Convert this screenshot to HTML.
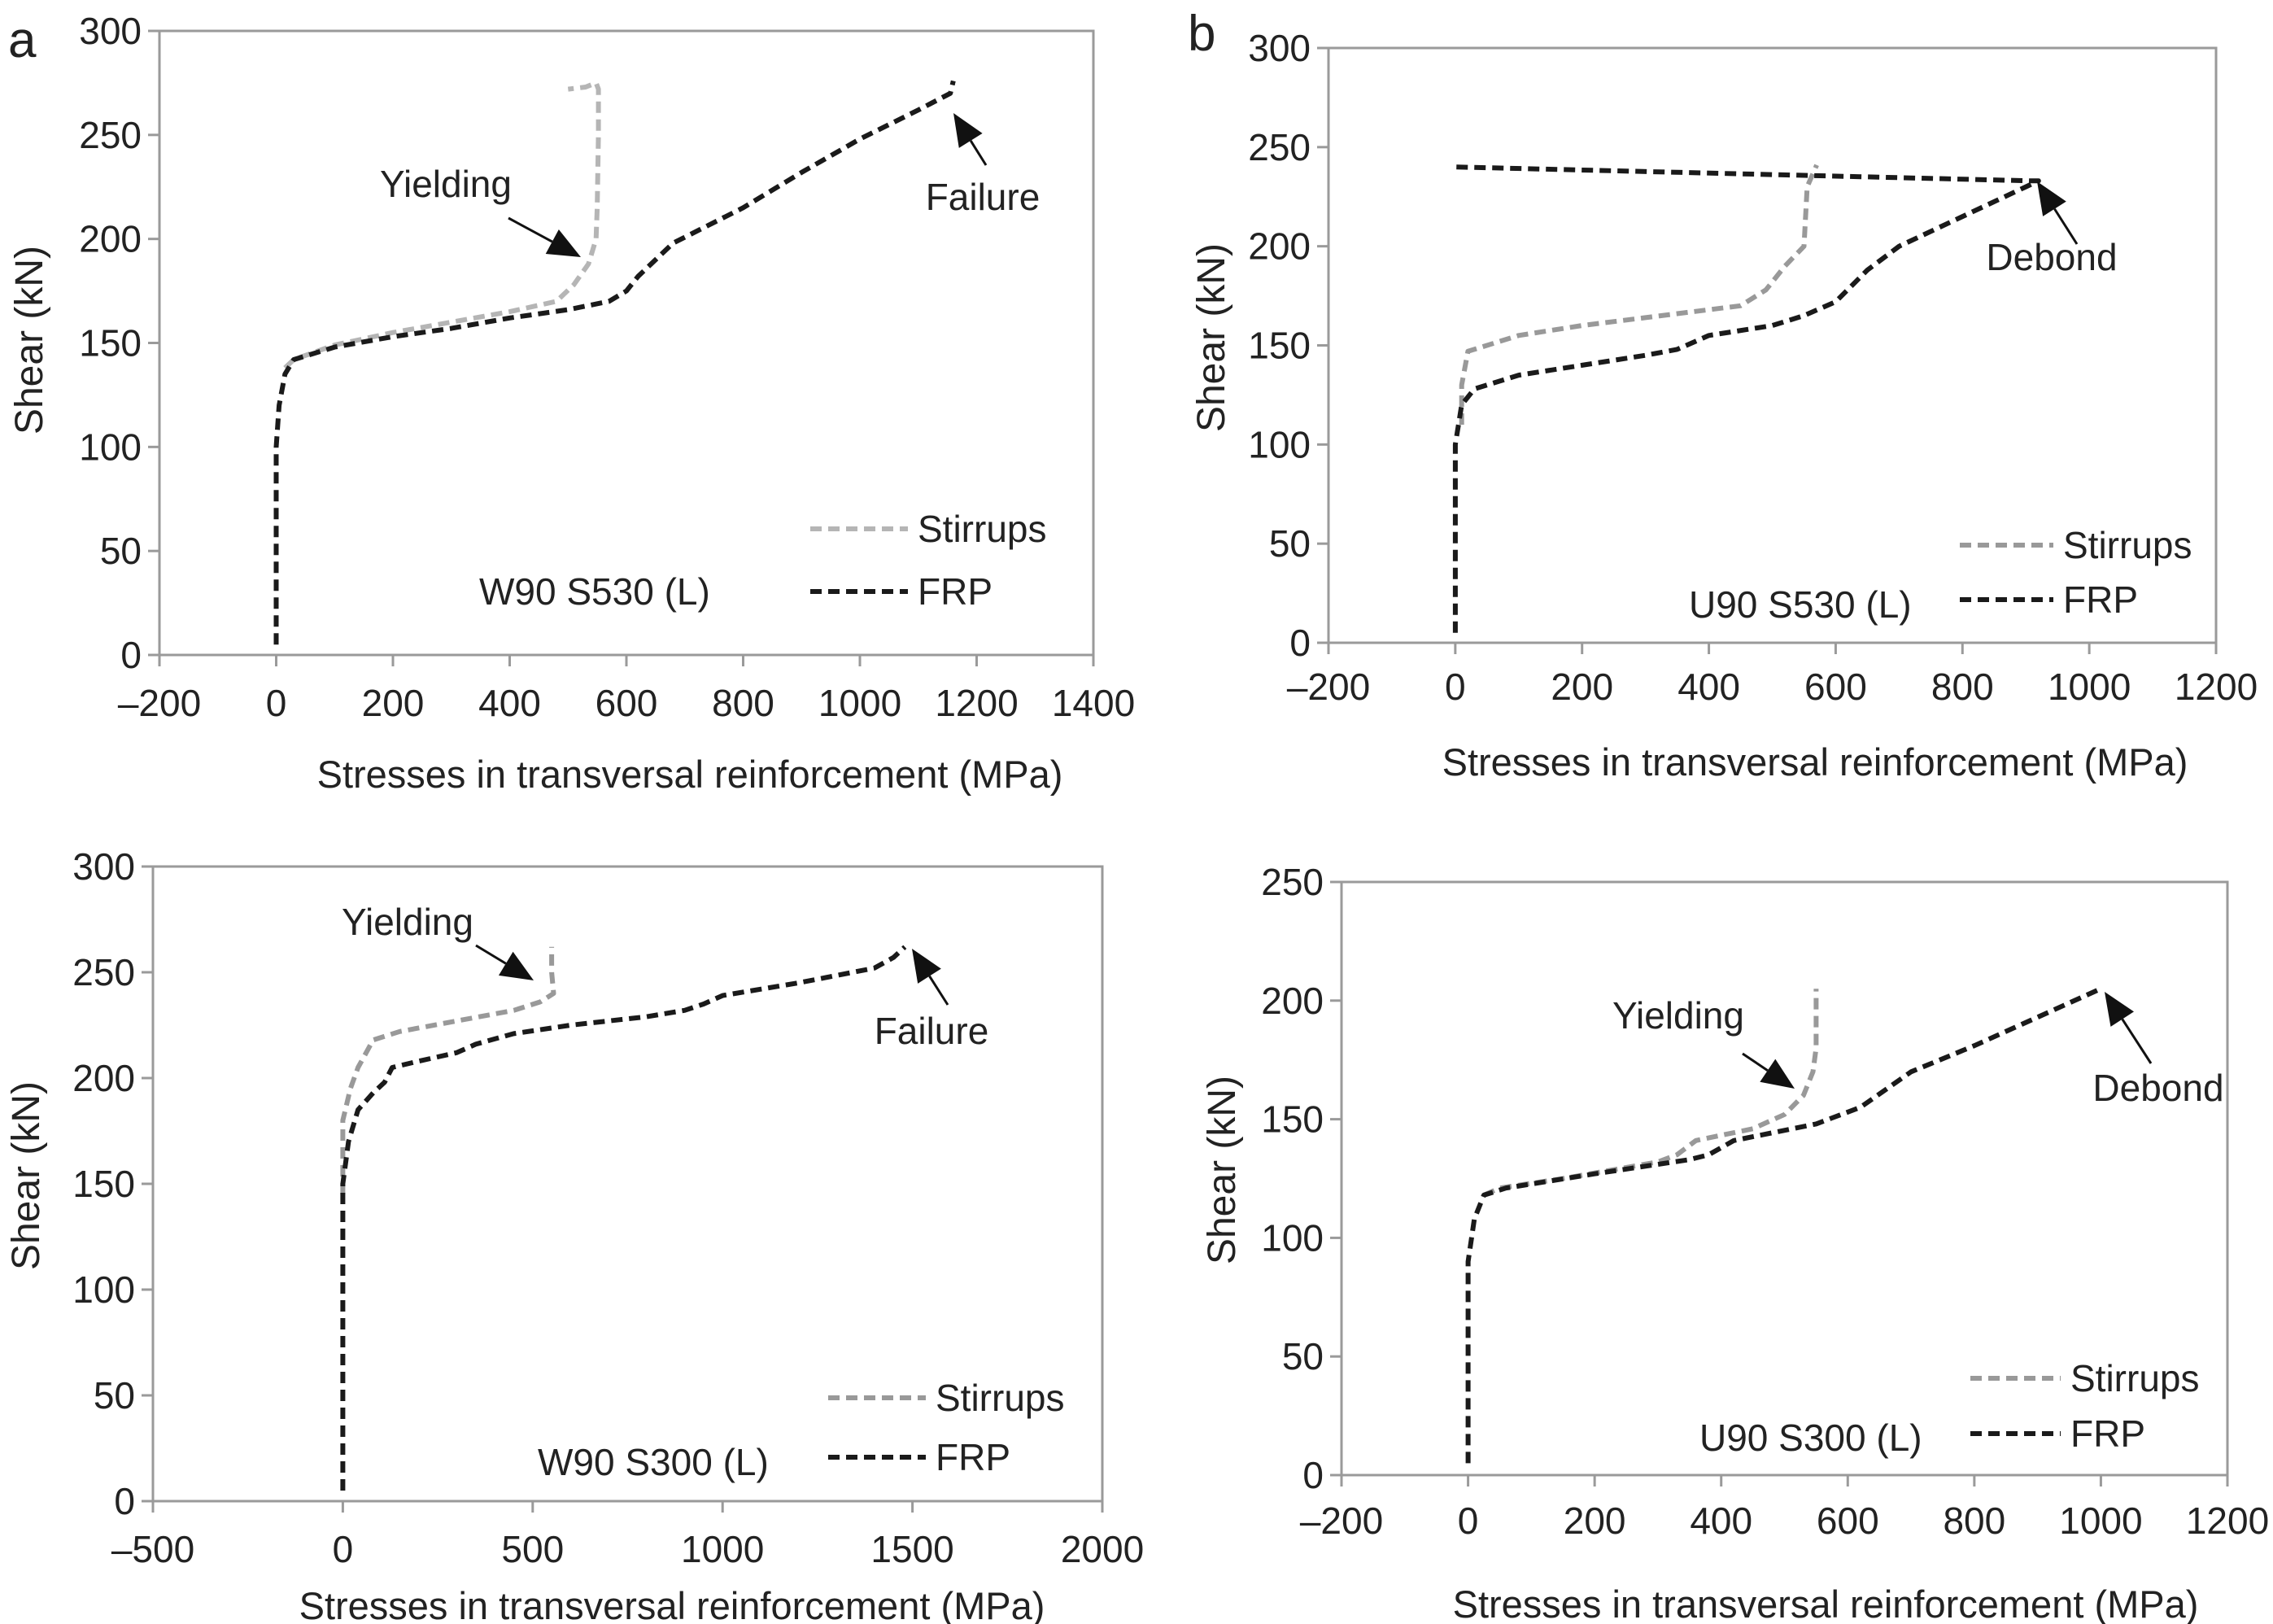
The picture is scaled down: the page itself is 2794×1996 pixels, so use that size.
<!DOCTYPE html>
<html><head><meta charset="utf-8"><style>
body{margin:0;background:#fff;}
svg{display:block;}
text{font-family:"Liberation Sans Narrow","Liberation Sans",sans-serif;fill:#222;}
.t{font-size:46px;}
.xt{font-size:47px;}
.yt{font-family:"Liberation Sans",sans-serif;font-size:48px;}
</style></head><body>
<svg id="fig" width="2794" height="1996" viewBox="0 0 2794 1996">
<text x="10" y="70" style="font-family:'Liberation Sans',sans-serif;font-size:62px">a</text>
<text x="1460" y="62" style="font-family:'Liberation Sans',sans-serif;font-size:62px">b</text>
</svg>
<script>
// Panel 1: W90 S530
const p1StirX=[15,30,100,200,300,400,480,510,535,548,550,552,552,548,530,500];
const p1StirY=[138,142,149,155,160,165,170,178,188,200,215,250,272,275,273,272];
const p1FrpX=[0,0,5,15,30,100,200,300,400,500,570,600,620,680,800,900,1000,1100,1155,1160];
const p1FrpY=[5,100,120,135,142,148,153,157,162,166,170,175,182,198,215,232,248,262,270,276];
const p1XTicks=[-200,0,200,400,600,800,1000,1200,1400];
const p1YTicks=[0,50,100,150,200,250,300];
// Panel 2: U90 S530
const p2StirX=[10,10,20,100,200,300,450,490,520,550,555,570];
const p2StirY=[110,130,147,155,160,164,170,178,190,200,230,241];
const p2FrpX=[0,0,10,30,100,200,300,350,400,500,550,600,650,700,800,900,920,910,0];
const p2FrpY=[5,100,120,128,135,140,145,148,155,160,165,172,188,200,215,230,233,233,240];
const p2XTicks=[-200,0,200,400,600,800,1000,1200];
const p2YTicks=[0,50,100,150,200,250,300];
// Panel 3: W90 S300
const p3StirX=[0,0,20,40,80,150,300,450,520,555,550,550];
const p3StirY=[145,180,195,205,218,222,227,232,236,240,250,262];
const p3FrpX=[0,0,15,40,80,110,130,200,300,350,450,600,800,900,950,1000,1200,1400,1450,1480];
const p3FrpY=[5,150,170,185,193,198,205,208,212,216,221,225,229,232,235,239,245,252,257,262];
const p3XTicks=[-500,0,500,1000,1500,2000];
const p3YTicks=[0,50,100,150,200,250,300];
// Panel 4: U90 S300
const p4StirX=[25,50,150,300,330,360,450,500,530,545,550,550];
const p4StirY=[118,121,125,132,135,141,146,152,160,170,180,205];
const p4FrpX=[0,0,10,25,60,200,350,380,420,550,620,700,800,900,1000];
const p4FrpY=[5,90,108,118,121,127,133,135,141,148,155,170,181,193,205];
const p4XTicks=[-200,0,200,400,600,800,1000,1200];
const p4YTicks=[0,50,100,150,200,250];

const NS='http://www.w3.org/2000/svg';
const svg=document.getElementById('fig');
function el(tag,attrs,parent){const e=document.createElementNS(NS,tag);for(const k in attrs)e.setAttribute(k,attrs[k]);(parent||svg).appendChild(e);return e;}

function panel(cfg){
  const g=el('g',{});
  
  
  const xmin=cfg.xt[0],xmax=cfg.xt[cfg.xt.length-1],ymin=cfg.yt[0],ymax=cfg.yt[cfg.yt.length-1];
  const sx=v=>cfg.L+(v-xmin)/(xmax-xmin)*(cfg.R-cfg.L);
  const sy=v=>cfg.B-(v-ymin)/(ymax-ymin)*(cfg.B-cfg.T);
  const frame=el('rect',{x:cfg.L,y:cfg.T,width:cfg.R-cfg.L,height:cfg.B-cfg.T,fill:'none',stroke:'#9a9a9a','stroke-width':3},g);
  
  
  cfg.xt.forEach(v=>{
    const tk=el('line',{x1:sx(v),x2:sx(v),y1:cfg.B,y2:cfg.B+14,stroke:'#9a9a9a','stroke-width':3},g);
    
    
    const t=el('text',{x:sx(v),y:cfg.xlb,'text-anchor':'middle',class:'t'},g);
    t.textContent=v<0?'\u2013'+(-v):String(v);
    
    
  });
  cfg.yt.forEach(v=>{
    const tk=el('line',{x1:cfg.L-14,x2:cfg.L,y1:sy(v),y2:sy(v),stroke:'#9a9a9a','stroke-width':3},g);
    
    
    const t=el('text',{x:cfg.L-22,y:sy(v)+16,'text-anchor':'end',class:'t'},g);
    t.textContent=String(v);
    
    
  });
  const xt=el('text',{x:cfg.xtx,y:cfg.xty,'text-anchor':'middle',class:'xt'},g);
  xt.textContent='Stresses in transversal reinforcement (MPa)';
  
  
  const yt=el('text',{x:0,y:0,'text-anchor':'middle',class:'yt',transform:`translate(${cfg.ytx},${cfg.yty}) rotate(-90)`},g);
  yt.textContent='Shear (kN)';
  
  
  function line(xs,ys,col,name){
    const d=xs.map((x,i)=>(i?'L':'M')+sx(x).toFixed(1)+' '+sy(ys[i]).toFixed(1)).join(' ');
    const p=el('path',{d:d,fill:'none',stroke:col,'stroke-width':6,'stroke-dasharray':'14 8','stroke-linejoin':'round'},g);
    
    
  }
  line(cfg.sx,cfg.sy,cfg.scol,'stirrups-series');
  line(cfg.fx,cfg.fy,'#1a1a1a','frp-series');
  const l1=el('line',{x1:cfg.lgx1,x2:cfg.lgx2,y1:cfg.lgy1,y2:cfg.lgy1,stroke:cfg.scol,'stroke-width':6,'stroke-dasharray':'14 8'},g);
  
  
  const lt1=el('text',{x:cfg.lgx2+12,y:cfg.lgy1+16,class:'t'},g);
  lt1.textContent='Stirrups';
  
  
  const l2=el('line',{x1:cfg.lgx1,x2:cfg.lgx2,y1:cfg.lgy2,y2:cfg.lgy2,stroke:'#1a1a1a','stroke-width':6,'stroke-dasharray':'14 8'},g);
  
  
  const lt2=el('text',{x:cfg.lgx2+12,y:cfg.lgy2+16,class:'t'},g);
  lt2.textContent='FRP';
  
  
  const sp=el('text',{x:cfg.spx,y:cfg.spy,class:'t'},g);
  sp.textContent=cfg.spec;
  
  
  cfg.ann.forEach(a=>{
    const t=el('text',{x:a.tx,y:a.ty,'text-anchor':a.anchor,class:'t'},g);
    t.textContent=a.text;
    
    
    const dx=a.x2-a.x1,dy=a.y2-a.y1,len=Math.hypot(dx,dy),ux=dx/len,uy=dy/len;
    const hl=40,hw=17;
    const bx=a.x2-ux*hl,by=a.y2-uy*hl;
    const ln=el('line',{x1:a.x1,y1:a.y1,x2:bx,y2:by,stroke:'#111','stroke-width':3},g);
    
    
    const hd=el('polygon',{points:`${a.x2},${a.y2} ${bx-uy*hw},${by+ux*hw} ${bx+uy*hw},${by-ux*hw}`,fill:'#111'},g);
    
    
  });
}

panel({name:'chart-w90-s530',L:196,R:1344,T:38,B:805,xt:p1XTicks,yt:p1YTicks,xlb:880,xtx:848,xty:968,ytx:52,yty:418,
  sx:p1StirX,sy:p1StirY,fx:p1FrpX,fy:p1FrpY,scol:'#b5b5b5',
  lgx1:996,lgx2:1116,lgy1:650,lgy2:727,spx:589,spy:743,spec:'W90 S530 (L)',
  ann:[{text:'Yielding',tx:467,ty:242,anchor:'start',x1:625,y1:268,x2:714,y2:316},
       {text:'Failure',tx:1208,ty:258,anchor:'middle',x1:1212,y1:203,x2:1172,y2:139}]});
panel({name:'chart-u90-s530',L:1633,R:2724,T:59,B:790,xt:p2XTicks,yt:p2YTicks,xlb:860,xtx:2231,xty:953,ytx:1505,yty:415,
  sx:p2StirX,sy:p2StirY,fx:p2FrpX,fy:p2FrpY,scol:'#999999',
  lgx1:2409,lgx2:2524,lgy1:670,lgy2:737,spx:2076,spy:759,spec:'U90 S530 (L)',
  ann:[{text:'Debond',tx:2522,ty:332,anchor:'middle',x1:2553,y1:300,x2:2504,y2:223}]});
panel({name:'chart-w90-s300',L:188,R:1355,T:1065,B:1845,xt:p3XTicks,yt:p3YTicks,xlb:1920,xtx:826,xty:1990,ytx:48,yty:1445,
  sx:p3StirX,sy:p3StirY,fx:p3FrpX,fy:p3FrpY,scol:'#999999',
  lgx1:1018,lgx2:1138,lgy1:1718,lgy2:1791,spx:661,spy:1813,spec:'W90 S300 (L)',
  ann:[{text:'Yielding',tx:420,ty:1149,anchor:'start',x1:585,y1:1162,x2:656,y2:1205},
       {text:'Failure',tx:1145,ty:1283,anchor:'middle',x1:1165,y1:1235,x2:1121,y2:1166}]});
panel({name:'chart-u90-s300',L:1649,R:2738,T:1084,B:1813,xt:p4XTicks,yt:p4YTicks,xlb:1885,xtx:2244,xty:1988,ytx:1518,yty:1438,
  sx:p4StirX,sy:p4StirY,fx:p4FrpX,fy:p4FrpY,scol:'#999999',
  lgx1:2422,lgx2:2533,lgy1:1694,lgy2:1762,spx:2089,spy:1783,spec:'U90 S300 (L)',
  ann:[{text:'Yielding',tx:1982,ty:1264,anchor:'start',x1:2142,y1:1295,x2:2206,y2:1338},
       {text:'Debond',tx:2653,ty:1353,anchor:'middle',x1:2644,y1:1307,x2:2587,y2:1219}]});
</script>
</body></html>
